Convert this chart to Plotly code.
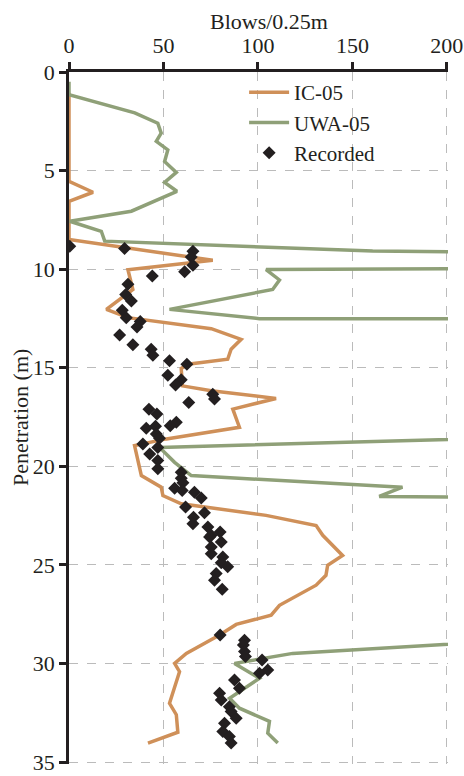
import plotly.graph_objects as go

# IC-05 prediction (depth m, blows/0.25m)
ic_depth = [1.05, 5.55, 6.1, 6.56, 8.5, 9.55, 10.03, 11.03, 12.04, 12.46, 13.02, 13.56, 14.06, 14.57,
            14.82, 15.04, 15.92, 16.17, 16.56, 17.1, 18.02, 18.61, 18.95, 20.47, 21.06, 21.48, 21.9,
            22.49, 23.0, 23.5, 24.52, 25.02, 25.53, 26.03, 27.05, 27.55, 28.02, 28.56, 29.49, 30.0,
            30.42, 32.02, 32.6, 33.49, 34.04]
ic_blows = [0, 0, 12.7, 0, 0, 76.1, 31.2, 33.8, 19.8, 31.2, 75.3, 91.1, 85.8, 84,
            62.9, 59.4, 60, 75.3, 109.6, 86.7, 90.2, 51.5, 34.7, 38.3, 48.8, 49.7, 59.4,
            104.3, 130.8, 134.3, 144.8, 136.9, 136, 130.8, 111.4, 107, 88.5, 79.7, 62.1, 55.9,
            58.5, 53.2, 56.8, 57.6, 41.8]

# UWA-05 prediction (values above 200 run off the chart)
uwa_depth = [0.5, 1.15, 2.07, 2.6, 3.1, 3.52, 3.95, 4.54, 5.09, 5.6, 6.05, 7.06, 7.57, 8.08, 8.58,
             9.08, 9.22, 9.94, 10.02, 10.55, 11.03, 12.04, 12.51, 12.52, 18.39, 19.04, 19.8, 20.47,
             21.06, 21.53, 21.64, 28.47, 29.49, 30.0, 30.75, 31.77, 32.27, 32.94, 33.54, 34.04]
uwa_blows = [0, 0, 34.8, 47, 48.8, 46.2, 52.3, 50.6, 56.8, 50.6, 57.1, 33, 0.4, 17.1, 18.9,
             160.7, 300, 300, 104.3, 111.4, 107.8, 53.2, 100.8, 300, 300, 47.9, 55.9, 64.7,
             176.5, 164.2, 300, 300, 118.4, 87.6, 100.8, 85, 90.2, 106.1, 105.2, 110.5]

# Recorded blow counts
rec_depth = [8.84, 8.95, 9.09, 9.39, 9.8, 10.13, 10.35, 10.77, 11.28, 11.62, 12.09, 12.46, 12.66, 12.93,
             13.34, 13.84, 14.06, 14.37, 14.65, 14.82, 15.38, 15.61, 15.87, 16.34, 16.59, 16.76, 17.1,
             17.35, 17.77, 17.94, 17.97, 18.07, 18.36, 18.58, 18.87, 19.04, 19.37, 19.71, 20.13, 20.3,
             20.6, 20.84, 21.11, 21.23, 21.31, 21.61, 22.07, 22.36, 22.58, 22.91, 23.08, 23.33, 23.5,
             23.59, 23.84, 24.09, 24.43, 24.6, 24.89, 25.1, 25.44, 25.78, 26.24, 28.56, 28.82, 29.07,
             29.4, 29.65, 29.83, 30.33, 30.5, 30.84, 31.26, 31.51, 31.85, 32.19, 32.44, 32.78, 33.03,
             33.45, 33.7, 34.04]
rec_blows = [0.4, 29.4, 65.6, 64.7, 65.6, 61.2, 44.1, 31.2, 30, 33, 28.2, 30.3, 37.7, 36,
             26.8, 33.8, 43.5, 44.4, 53.2, 62.4, 52.3, 59.4, 56.4, 76.1, 77, 63.4, 42.3,
             46.5, 56.8, 53.6, 45.8, 40.9, 46.2, 47.9, 39.1, 47, 42.7, 47, 47, 59.4,
             59.4, 60.3, 55.9, 59.9, 66.4, 70, 61.7, 71.7, 65.9, 65.6, 73.5, 80, 75.3,
             74.4, 80.6, 75.3, 75.3, 81.4, 80.6, 84, 77.9, 77, 81.1, 80, 92.9, 92.3,
             92.9, 93.4, 102.2, 105.2, 100.8, 87.6, 90.2, 79.7, 80.6, 84.9, 85.8, 88.5, 82.3,
             81.4, 84.9, 85.8]

x_ticks = [0, 50, 100, 150, 200]
y_ticks = [0, 5, 10, 15, 20, 25, 30, 35]

FONT = "Liberation Serif"
ORANGE = "#CF9059"
GREEN = "#8FA078"

fig = go.Figure()
fig.add_trace(go.Scatter(x=ic_blows, y=ic_depth, mode="lines", name="IC-05",
                         line=dict(color=ORANGE, width=3.5)))
fig.add_trace(go.Scatter(x=uwa_blows, y=uwa_depth, mode="lines", name="UWA-05",
                         line=dict(color=GREEN, width=3.5)))
fig.add_trace(go.Scatter(x=rec_blows, y=rec_depth, mode="markers", name="Recorded",
                         marker=dict(symbol="diamond", size=10, color="#231F20")))

fig.update_layout(
    width=464, height=776, autosize=False,
    margin=dict(l=69, r=16, t=72, b=12),
    paper_bgcolor="white", plot_bgcolor="white",
    font=dict(family=FONT, size=22, color="#231F20"),
    showlegend=True,
    legend=dict(x=0.462, y=1.0, xanchor="left", yanchor="top",
                bgcolor="rgba(0,0,0,0)", font=dict(size=21, family=FONT),
                tracegroupgap=0, itemwidth=40),
    xaxis=dict(side="top", range=[0, 200.6], tickvals=x_ticks, ticktext=[str(v) for v in x_ticks],
               showgrid=True, gridcolor="#BBBBBB", griddash="dash", gridwidth=1,
               showline=True, linecolor="#231F20", linewidth=2.5,
               ticks="outside", ticklen=7, tickwidth=2.5, tickcolor="#231F20",
               zeroline=False, automargin=False, ticklabeloverflow="allow"),
    yaxis=dict(range=[35.1, 0], tickvals=y_ticks, ticktext=[str(v) for v in y_ticks],
               showgrid=True, gridcolor="#BBBBBB", griddash="dash", gridwidth=1,
               showline=True, linecolor="#231F20", linewidth=2.5,
               ticks="outside", ticklen=7, tickwidth=2.5, tickcolor="#231F20",
               zeroline=False, automargin=False, ticklabeloverflow="allow"),
    annotations=[
        dict(text="Blows/0.25m", xref="paper", yref="paper", x=0.528, y=1.073,
             xanchor="center", yanchor="middle", showarrow=False,
             font=dict(size=22, family=FONT)),
        dict(text="Penetration (m)", xref="paper", yref="paper", x=-0.129, y=0.5,
             xanchor="center", yanchor="middle", textangle=-90, showarrow=False,
             font=dict(size=22, family=FONT)),
    ],
)

fig.write_html("out.html", config={"displayModeBar": False},
               post_script="document.body.style.margin='0';document.body.style.overflow='hidden';")
